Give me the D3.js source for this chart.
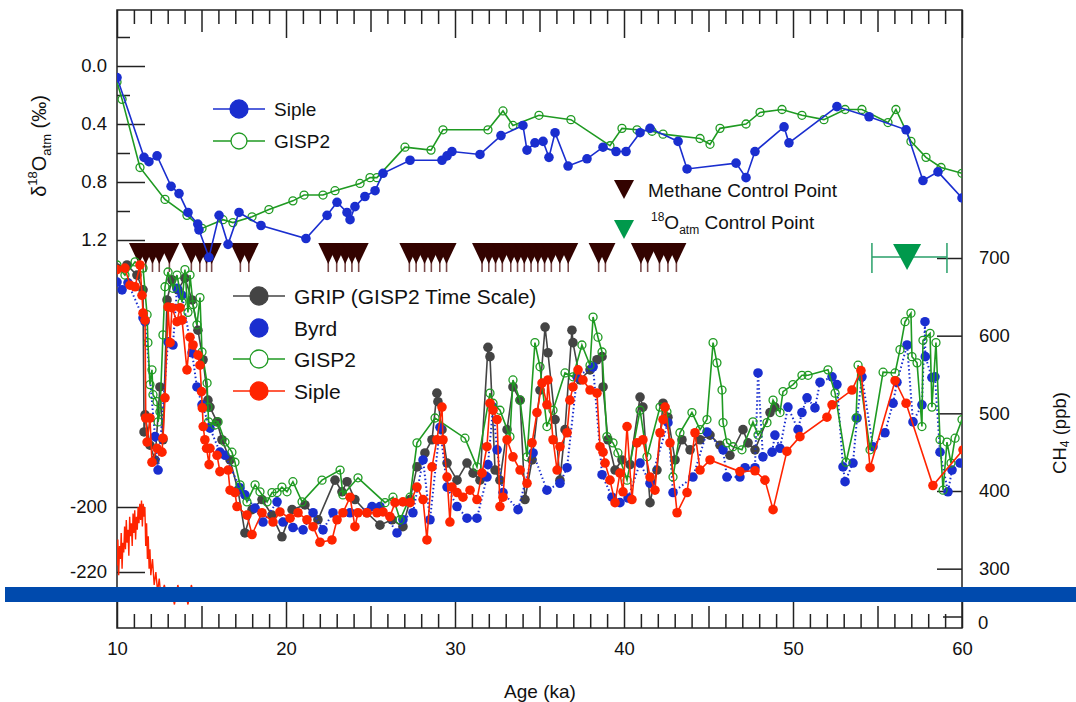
<!DOCTYPE html>
<html lang="en">
<head>
<meta charset="utf-8">
<script src="https://cdn.jsdelivr.net/npm/d3@7"></script>
<style>
    body { margin: 0; background: #fff; }
    svg { font-family: "Liberation Sans", Arial, sans-serif; }
    .axis path, .axis line { stroke: #222; stroke-width: 1.5px; }
    .axis text { font-size: 18.5px; fill: #111; font-family: "Liberation Sans", Arial, sans-serif; }
    .frame { stroke: #222; stroke-width: 1.5px; }
    .leg { font-size: 21px; fill: #111; }
    .leg2 { font-size: 19px; fill: #111; }
</style>
</head>
<body>
<script>
    // ---- top panel: d18O atm (age ka, permil)
    let sipleO18 = [[10.0,0.08],[11.6,0.63],[11.89,0.66],[12.37,0.62],[13.2,0.83],[13.67,0.88],[14.2,1.01],[14.78,1.09],[14.85,1.13],[15.44,1.32],[16.04,1.03],[16.57,1.23],[17.22,1.01],[18.52,1.10],[21.18,1.19],[22.43,1.03],[23.02,0.94],[23.61,1.01],[23.79,1.06],[24.08,0.97],[24.67,0.90],[25.27,0.86],[25.74,0.74],[27.34,0.65],[29.23,0.65],[29.53,0.62],[29.82,0.59],[31.48,0.61],[32.72,0.48],[34.02,0.41],[34.26,0.58],[34.73,0.53],[35.21,0.52],[35.56,0.63],[35.92,0.46],[36.69,0.69],[37.81,0.64],[38.76,0.56],[39.53,0.59],[40.12,0.59],[40.95,0.46],[41.54,0.43],[43.2,0.52],[43.73,0.71],[46.63,0.67],[47.22,0.77],[47.75,0.59],[49.47,0.42],[49.76,0.53],[52.6,0.28],[54.5,0.35],[56.69,0.44],[57.69,0.79],[58.58,0.73],[60.0,0.91]];
    let gisp2O18 = [[10.0,0.11],[10.3,0.23],[11.36,0.70],[12.84,0.92],[14.14,1.03],[15.03,1.12],[16.27,1.06],[16.86,1.08],[17.99,1.04],[18.99,0.99],[20.41,0.93],[21.07,0.89],[22.19,0.89],[22.9,0.86],[24.38,0.81],[24.97,0.77],[25.38,0.77],[27.04,0.56],[28.58,0.58],[29.29,0.44],[31.95,0.44],[32.84,0.31],[33.43,0.41],[34.97,0.34],[36.86,0.37],[39.17,0.55],[39.88,0.43],[40.77,0.44],[41.66,0.45],[42.31,0.47],[44.5,0.50],[45.09,0.54],[45.68,0.43],[47.22,0.40],[48.05,0.32],[49.35,0.30],[50.53,0.34],[51.83,0.37],[53.08,0.30],[54.08,0.30],[55.62,0.39],[56.09,0.30],[56.98,0.52],[57.87,0.63],[58.76,0.70],[60.0,0.74]];

    // ---- control points (age ka)
    let methaneControl = [11.3,11.7,12.1,12.5,13.1,14.4,14.9,15.3,15.6,17.3,17.8,22.5,23.0,23.5,23.9,24.3,27.3,27.7,28.2,28.6,29.1,29.5,31.6,32.0,32.4,32.8,33.3,33.7,34.1,34.5,34.9,35.3,35.7,36.2,36.7,38.5,38.9,41.0,41.4,42.1,42.6,43.1];
    let o18Control = [[56.75, 54.67, 59.11]]; // age, min, max

    // ---- lower panel: CH4 (age ka, ppb)
    let gripCH4 = [[10.0,687],[10.59,691],[11.18,678],[11.54,659],[11.6,476],[11.66,498],[11.95,459],[12.25,440],[12.54,534],[12.72,466],[12.96,646],[13.25,672],[13.61,659],[14.02,674],[14.44,646],[14.79,607],[15.09,569],[15.38,517],[15.5,508],[15.92,489],[16.21,466],[16.69,440],[17.16,401],[17.57,346],[17.99,376],[18.58,389],[19.17,369],[19.76,341],[20.36,376],[21.12,382],[21.89,363],[22.9,414],[23.31,399],[23.61,412],[24.08,389],[24.79,372],[25.56,356],[26.27,363],[26.92,354],[27.34,389],[27.75,431],[28.22,449],[28.64,466],[28.93,526],[28.99,515],[29.23,479],[29.53,436],[30.12,414],[30.71,436],[31.07,423],[31.48,414],[31.95,585],[32.07,573],[32.37,427],[32.66,414],[33.08,479],[33.43,534],[33.85,517],[34.14,389],[34.56,440],[35.03,530],[35.33,611],[35.5,578],[35.92,492],[36.21,414],[36.51,479],[36.92,607],[36.98,591],[37.4,543],[37.99,556],[38.4,569],[38.7,573],[38.76,534],[39.05,466],[39.47,427],[39.88,440],[40.36,434],[40.95,521],[41.12,508],[41.54,385],[41.95,427],[42.31,513],[42.6,495],[43.02,440],[43.43,466],[43.91,453],[44.5,466],[45.09,472],[45.68,459],[46.27,446],[47.04,479],[47.34,462],[47.75,453],[48.64,501],[48.93,508]];
    let byrdCH4 = [[10.0,669],[10.3,659],[10.65,668],[11.54,623],[11.66,618],[12.25,470],[12.43,427],[13.02,592],[13.31,588],[13.55,661],[13.85,652],[14.44,578],[14.73,534],[15.03,511],[15.5,481],[16.09,450],[16.39,446],[17.28,404],[17.57,395],[18.17,378],[18.64,360],[19.47,386],[19.82,360],[20.41,353],[21.01,350],[21.6,372],[22.19,350],[22.78,372],[23.79,372],[25.09,380],[25.56,380],[26.57,346],[26.92,363],[27.51,372],[28.11,440],[28.52,363],[29.11,482],[29.53,405],[30.12,380],[30.71,365],[31.3,365],[31.89,418],[31.95,434],[32.25,508],[32.49,453],[32.84,398],[33.73,376],[34.62,449],[35.44,401],[36.21,410],[36.63,430],[37.22,547],[38.17,560],[38.7,421],[39.29,392],[39.76,385],[40.24,391],[40.95,436],[41.54,410],[42.6,488],[42.9,398],[44.08,418],[44.91,476],[45.86,453],[46.09,418],[46.86,418],[47.16,430],[47.75,430],[47.93,552],[48.22,444],[48.76,450],[48.93,472],[49.23,455],[49.7,508],[50.3,479],[50.53,501],[50.83,520],[51.3,507],[51.6,540],[52.31,547],[52.6,537],[52.96,431],[53.08,412],[53.55,436],[53.79,494],[54.08,547],[54.73,457],[55.44,475],[55.92,513],[56.15,540],[56.75,588],[57.1,489],[57.63,511],[57.81,618],[57.83,573],[58.22,546],[58.4,547],[58.7,450],[59.17,399],[59.41,427],[59.88,436]];
    let gisp2CH4 = [[10.0,691],[10.47,678],[11.07,695],[11.54,687],[11.78,627],[11.83,591],[11.95,537],[12.07,556],[12.13,524],[12.37,515],[12.43,489],[12.54,502],[12.72,601],[12.84,663],[13.02,682],[13.31,661],[13.55,678],[13.85,643],[14.02,685],[14.2,630],[14.32,678],[14.5,640],[14.73,614],[14.91,649],[15.03,579],[15.33,539],[15.38,508],[15.42,489],[15.8,485],[15.98,489],[16.39,463],[16.8,450],[16.98,437],[17.28,408],[17.69,386],[18.17,408],[18.46,399],[18.88,386],[19.17,398],[19.47,398],[19.76,405],[20.06,399],[20.41,412],[20.95,386],[22.13,414],[23.2,427],[23.37,395],[24.26,417],[25.86,385],[26.33,392],[26.75,363],[27.34,392],[27.75,462],[28.82,494],[30.59,468],[31.3,431],[32.07,526],[32.25,513],[32.66,504],[33.25,470],[33.43,543],[33.85,517],[34.26,444],[34.73,591],[35.03,560],[35.44,483],[35.8,504],[36.51,552],[36.98,547],[37.51,588],[37.99,562],[38.17,624],[38.46,598],[38.7,579],[38.99,470],[39.35,462],[39.64,449],[40.18,414],[40.95,504],[41.36,444],[42.13,508],[42.54,502],[42.9,418],[43.31,475],[44.02,501],[44.5,479],[44.91,492],[45.27,591],[45.5,565],[45.8,530],[45.86,488],[46.09,462],[46.45,457],[46.98,453],[47.63,489],[47.93,472],[48.46,488],[48.82,517],[49.23,501],[49.41,528],[50.0,537],[50.53,549],[50.89,549],[52.07,556],[52.49,526],[53.14,437],[53.73,494],[53.85,562],[54.56,453],[55.33,553],[56.04,552],[56.33,582],[56.63,618],[56.98,629],[57.04,573],[57.34,565],[57.63,483],[57.69,594],[58.11,603],[58.22,508],[58.46,591],[58.7,466],[58.88,401],[59.11,463],[59.35,436],[59.59,468],[60.0,492]];
    let sipleCH4 = [[10.0,685],[10.47,687],[10.77,665],[11.07,663],[11.36,691],[11.48,652],[11.54,629],[11.66,620],[11.7,494],[11.78,463],[11.95,494],[12.07,437],[12.37,455],[12.66,450],[12.72,468],[12.84,520],[13.02,637],[13.14,591],[13.25,636],[13.55,618],[13.73,636],[13.85,620],[14.14,556],[14.32,598],[14.5,588],[14.79,575],[14.91,562],[15.0,528],[15.05,507],[15.1,483],[15.2,466],[15.3,455],[15.45,434],[15.5,455],[15.92,446],[16.09,425],[16.57,427],[16.69,401],[16.98,398],[17.1,380],[17.69,369],[17.99,344],[18.58,372],[19.23,360],[19.64,373],[20.24,365],[20.71,372],[21.24,363],[21.6,354],[22.01,334],[22.72,337],[23.02,363],[23.37,372],[23.79,392],[24.08,354],[24.26,372],[24.79,372],[25.38,372],[25.74,373],[26.15,367],[26.45,385],[26.92,386],[27.34,385],[27.75,405],[28.11,389],[28.34,337],[28.64,431],[28.93,466],[29.23,508],[29.29,466],[29.53,418],[29.7,360],[29.82,405],[30.12,398],[30.47,392],[30.89,401],[31.3,389],[31.6,423],[31.89,457],[32.07,513],[32.25,504],[32.49,492],[32.66,380],[32.84,392],[33.08,466],[33.43,444],[33.85,427],[34.26,410],[34.56,462],[34.85,501],[35.15,539],[35.44,511],[35.5,543],[35.8,466],[36.04,427],[36.21,457],[36.63,475],[36.8,517],[36.98,534],[37.28,556],[37.57,543],[37.99,530],[38.4,526],[38.58,457],[38.76,450],[38.88,436],[39.17,414],[39.47,385],[39.76,423],[39.94,399],[40.18,483],[40.47,389],[40.77,462],[41.12,466],[41.54,418],[41.83,401],[42.13,475],[42.31,492],[42.43,508],[42.72,462],[43.14,372],[43.73,398],[44.2,475],[44.5,427],[45.09,440],[46.86,425],[47.75,426],[48.34,414],[48.82,376],[49.64,451],[50.41,470],[52.01,495],[52.31,511],[53.49,530],[54.02,555],[54.56,430],[56.04,542],[56.69,513],[58.28,407],[60.06,453]];

    // ---- lower-left red record (age ka, permil)
    let sipleDD = [[10.0,-218],[10.05,-210],[10.1,-221],[10.15,-212],[10.2,-216],[10.25,-208],[10.3,-219],[10.35,-211],[10.4,-214],[10.45,-206],[10.5,-213],[10.55,-204],[10.6,-211],[10.65,-207],[10.7,-215],[10.75,-203],[10.8,-209],[10.85,-205],[10.9,-212],[10.95,-202],[11.0,-208],[11.05,-201],[11.1,-210],[11.15,-203],[11.2,-207],[11.25,-200],[11.3,-205],[11.35,-199],[11.4,-204],[11.45,-198],[11.5,-206],[11.55,-199],[11.6,-203],[11.65,-200],[11.7,-212],[11.75,-205],[11.8,-216],[11.85,-209],[11.9,-219],[11.95,-213],[12.0,-221],[12.1,-216],[12.2,-224],[12.3,-220],[12.4,-226],[12.5,-222],[12.6,-228],[12.8,-224],[13.0,-229],[13.2,-225],[13.4,-230],[13.6,-224],[13.8,-229],[14.0,-225],[14.2,-230],[14.4,-224],[14.6,-229]];

    // ---- ticks
    let ageMinor = [11,12,13,14,16,17,18,19,21,22,23,24,26,27,28,29,31,32,33,34,36,37,38,39,41,42,43,44,46,47,48,49,51,52,53,54,56,57,58,59];
    let ageFive = [15,25,35,45,55];
    let ageTen = [10,20,30,40,50,60];
    let o18Major = [0, 0.4, 0.8, 1.2];
    let o18Minor = [-0.2, 0.2, 0.6, 1.0];
    let ch4Ticks = [300, 400, 500, 600, 700];
    let dDTicks = [-200, -220];

    const blue = '#1a2ecf', green = '#1f9a22', red = '#ff2400', gray = '#444444',
        brown = '#330300', ctlGreen = '#00994c';

    let svg = d3.select('body').append('svg').attr('width', 1076).attr('height', 702);

    let x = d3.scaleLinear().domain([10, 60]).range([117, 962]);
    let yO = d3.scaleLinear().domain([0, 1.2]).range([66, 240]);
    let yC = d3.scaleLinear().domain([400, 700]).range([491, 258]);
    let yD = d3.scaleLinear().domain([-200, -220]).range([507, 572]);

    svg.append('clipPath').attr('id', 'plot').append('rect')
        .attr('x', 117).attr('y', 10).attr('width', 845).attr('height', 618);

    // ---- axes
    function topTicks(vals, size) {
        svg.append('g').attr('class', 'axis').attr('transform', 'translate(0,10)')
            .call(d3.axisBottom(x).tickValues(vals).tickSize(size).tickSizeOuter(0).tickFormat(''));
    }
    topTicks(ageMinor, 14); topTicks(ageFive, 22); topTicks(ageTen, 28);

    function bottomTicks(vals, size, fmt) {
        svg.append('g').attr('class', 'axis').attr('transform', 'translate(0,628)')
            .call(d3.axisBottom(x).tickValues(vals).tickSize(-size).tickSizeOuter(0)
                .tickPadding(14).tickFormat(fmt));
    }
    bottomTicks(ageMinor, 14, ''); bottomTicks(ageFive, 22, '');
    bottomTicks(ageTen, 26, function (d) { return String(d); });

    svg.append('g').attr('class', 'axis').attr('transform', 'translate(117,0)')
        .call(d3.axisLeft(yO).tickValues(o18Major).tickSize(-28).tickSizeOuter(0)
            .tickPadding(10).tickFormat(d3.format('.1f')));
    svg.append('g').attr('class', 'axis').attr('transform', 'translate(117,0)')
        .call(d3.axisLeft(yO).tickValues(o18Minor).tickSize(-13).tickSizeOuter(0).tickFormat(''));
    svg.append('g').attr('class', 'axis').attr('transform', 'translate(117,0)')
        .call(d3.axisLeft(yD).tickValues(dDTicks).tickSize(-28).tickSizeOuter(0)
            .tickPadding(10).tickFormat(function (d) { return String(d); }));
    svg.append('g').attr('class', 'axis').attr('transform', 'translate(962,0)')
        .call(d3.axisRight(yC).tickValues(ch4Ticks).tickSize(-25).tickSizeOuter(0).tickPadding(17));
    svg.selectAll('.axis .domain').remove();

    // broken-axis zero of CH4
    svg.append('line').attr('class', 'frame').attr('x1', 943).attr('x2', 962).attr('y1', 617).attr('y2', 617);
    svg.append('text').attr('class', 'leg2').attr('x', 978).attr('y', 629).style('font-size', '18.5px').text('0');

    // frame
    svg.append('rect').attr('x', 117).attr('y', 10).attr('width', 845).attr('height', 618)
        .attr('fill', 'none').attr('class', 'frame');

    let plot = svg.append('g').attr('clip-path', 'url(#plot)');

    // ---- methane control points
    let tri = plot.append('g');
    tri.selectAll('line').data(methaneControl).enter().append('line')
        .attr('x1', function (d) { return x(d); }).attr('x2', function (d) { return x(d); })
        .attr('y1', 256).attr('y2', 272)
        .attr('stroke', '#7a4848').attr('stroke-width', 1.6);
    tri.selectAll('path').data(methaneControl).enter().append('path')
        .attr('d', function (d) { return 'M' + (x(d) - 10) + ',243 H' + (x(d) + 10) + ' L' + x(d) + ',264 Z'; })
        .attr('fill', brown);

    // 18O control point with error bar
    let oc = plot.append('g').selectAll('g').data(o18Control).enter().append('g');
    oc.append('path').attr('fill', 'none').attr('stroke', '#2aa06a').attr('stroke-width', 1.5)
        .attr('d', function (d) {
            return 'M' + x(d[1]) + ',257 H' + x(d[2]) + ' M' + x(d[1]) + ',243 V273 M' + x(d[2]) + ',243 V273';
        });
    oc.append('path').attr('fill', ctlGreen)
        .attr('d', function (d) { return 'M' + (x(d[0]) - 14) + ',244 H' + (x(d[0]) + 14) + ' L' + x(d[0]) + ',270 Z'; });

    // ---- series helper
    function series(data, yScale, color, opts) {
        let g = plot.append('g');
        let line = d3.line().x(function (d) { return x(d[0]); }).y(function (d) { return yScale(d[1]); });
        if (opts.line !== false) {
            g.append('path').datum(data).attr('d', line).attr('fill', 'none')
                .attr('stroke', color).attr('stroke-width', opts.width || 1.6)
                .attr('stroke-dasharray', opts.dash || null);
        }
        if (opts.r) {
            g.selectAll('circle').data(data).enter().append('circle')
                .attr('cx', function (d) { return x(d[0]); })
                .attr('cy', function (d) { return yScale(d[1]); })
                .attr('r', opts.r)
                .attr('fill', opts.open ? 'none' : color)
                .attr('stroke', opts.open ? color : 'none').attr('stroke-width', 1.3);
        }
    }

    series(sipleDD, yD, red, {width: 1.4});
    series(gisp2O18, yO, green, {r: 4, open: true});
    series(sipleO18, yO, blue, {r: 4.8});

    series(gripCH4, yC, gray, {r: 4.8});
    series(byrdCH4, yC, blue, {r: 4.8, dash: '1.5,2.5', width: 2});
    series(gisp2CH4, yC, green, {r: 4, open: true});
    series(sipleCH4, yC, red, {r: 4.8});

    // ---- legends
    function legendRow(y, color, label, opts, cls, cx) {
        let g = svg.append('g');
        if (opts.line !== false) {
            g.append('line').attr('x1', cx - 26).attr('x2', cx + 26).attr('y1', y).attr('y2', y)
                .attr('stroke', color).attr('stroke-width', 1.6);
        }
        g.append('circle').attr('cx', cx).attr('cy', y).attr('r', opts.r)
            .attr('fill', opts.open ? 'white' : color)
            .attr('stroke', color).attr('stroke-width', 1.3);
        g.append('text').attr('class', cls).attr('x', cx + 35).attr('y', y).attr('dy', '0.36em').text(label);
    }
    legendRow(109, blue, 'Siple', {r: 9}, 'leg2', 239);
    legendRow(141, green, 'GISP2', {r: 8, open: true}, 'leg2', 239);

    legendRow(296, gray, 'GRIP (GISP2 Time Scale)', {r: 9}, 'leg', 259);
    legendRow(328, blue, 'Byrd', {r: 9, line: false}, 'leg', 259);
    legendRow(359, green, 'GISP2', {r: 9, open: true}, 'leg', 259);
    legendRow(391, red, 'Siple', {r: 9}, 'leg', 259);

    svg.append('path').attr('fill', brown).attr('d', 'M614,180 H634 L624,199 Z');
    svg.append('text').attr('class', 'leg2').attr('x', 648).attr('y', 197).text('Methane Control Point');
    svg.append('path').attr('fill', ctlGreen).attr('d', 'M614,220 H634 L624,239 Z');
    let ot = svg.append('text').attr('class', 'leg2').attr('x', 651).attr('y', 229);
    ot.append('tspan').style('font-size', '12px').attr('dy', -8).text('18');
    ot.append('tspan').attr('dy', 8).text('O');
    ot.append('tspan').style('font-size', '12px').attr('dy', 5).text('atm');
    ot.append('tspan').attr('dy', -5).text(' Control Point');

    // ---- axis titles
    let yt = svg.append('text').attr('transform', 'translate(46,146) rotate(-90)')
        .attr('text-anchor', 'middle').style('font-size', '20px').attr('fill', '#111');
    yt.append('tspan').text('δ');
    yt.append('tspan').style('font-size', '13px').attr('dy', -9).text('18');
    yt.append('tspan').attr('dy', 9).text('O');
    yt.append('tspan').style('font-size', '13px').attr('dy', 5).text('atm');
    yt.append('tspan').attr('dy', -5).text('  (‰)');

    let rt = svg.append('text').attr('transform', 'translate(1066,433) rotate(-90)')
        .attr('text-anchor', 'middle').style('font-size', '18.5px').attr('fill', '#111');
    rt.append('tspan').text('CH');
    rt.append('tspan').style('font-size', '12px').attr('dy', 3).text('4');
    rt.append('tspan').attr('dy', -3).text(' (ppb)');

    svg.append('text').attr('x', 540).attr('y', 698).attr('text-anchor', 'middle')
        .style('font-size', '19px').attr('fill', '#111').text('Age (ka)');

    // ---- blue band across the figure
    svg.append('rect').attr('x', 5).attr('y', 587).attr('width', 1071).attr('height', 15).attr('fill', '#004aad');
</script>
</body>
</html>
